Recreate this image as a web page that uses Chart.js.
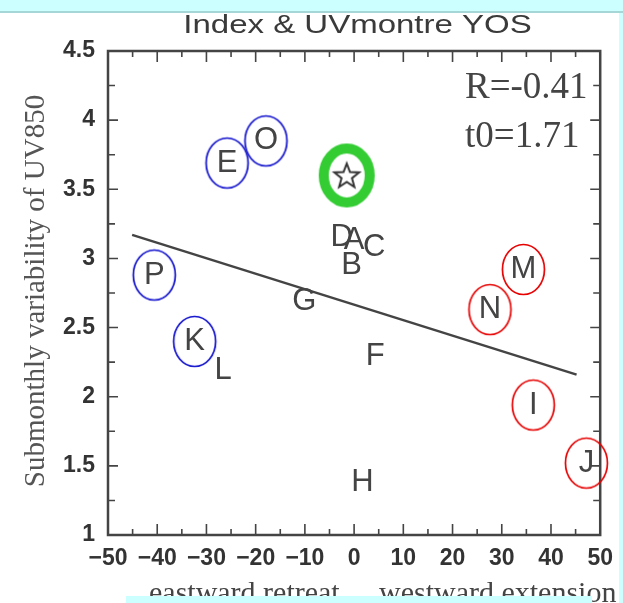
<!DOCTYPE html>
<html>
<head>
<meta charset="utf-8">
<style>
  html, body { margin: 0; padding: 0; background: #fff; }
  canvas { display: block; }
</style>
</head>
<body>
<canvas id="myChart" width="623" height="603"></canvas>
<script src="https://cdn.jsdelivr.net/npm/chart.js"></script>
<script>
// values
const labels  = ['A', 'B', 'C', 'D', 'E', 'F', 'G', 'H', 'I', 'J', 'K', 'L', 'M', 'N', 'O', 'P'];
const xValues = [0, -0.5, 4.1, -2.5, -25.8, 4.3, -10.1, 1.7, 36.4, 47.2, -32.4, -26.6, 34.4, 27.6, -17.9, -40.6];
const yValues = [3.13, 2.95, 3.08, 3.15, 3.69, 2.29, 2.69, 1.38, 1.94, 1.52, 2.40, 2.19, 2.92, 2.63, 3.85, 2.88];
const blueCircled = ['E', 'O', 'P', 'K'];
const redCircled = ['M', 'N', 'I', 'J'];
const starX = [-1.5];
const starY = [3.60];
const fitX = [-45.1, 45.2];
const fitY = [3.17, 2.16];
const statText = ['R=-0.41', 't0=1.71'];

const pts = names => names.map(n => {
  const i = labels.indexOf(n);
  return { x: xValues[i], y: yValues[i] };
});

// point marks as little canvases
function ellipseMark(color, rx, ry, lw) {
  const c = document.createElement('canvas');
  c.width = 2 * rx + 2 * lw + 2;
  c.height = 2 * ry + 2 * lw + 2;
  const g = c.getContext('2d');
  g.strokeStyle = color;
  g.lineWidth = lw;
  g.beginPath();
  g.ellipse(c.width / 2, c.height / 2, rx, ry, 0, 0, Math.PI * 2);
  g.stroke();
  return c;
}

function starMark() {
  const c = ellipseMark('#33cc33', 23, 27, 10);
  const g = c.getContext('2d');
  const cx = c.width / 2, cy = c.height / 2 + 1;
  g.beginPath();
  for (let k = 0; k < 10; k++) {
    const r = k % 2 === 0 ? 13 : 5.5;
    const a = -Math.PI / 2 + k * Math.PI / 5;
    g.lineTo(cx + r * Math.cos(a), cy + r * Math.sin(a));
  }
  g.closePath();
  g.fillStyle = '#fff';
  g.fill();
  g.strokeStyle = '#333';
  g.lineWidth = 2;
  g.stroke();
  return c;
}

const decor = {
  id: 'decor',
  beforeDatasetsDraw(chart) {
    const { ctx, chartArea: a, scales: { x, y } } = chart;
    ctx.save();
    ctx.strokeStyle = '#444';
    ctx.lineWidth = 1.6;
    ctx.beginPath();
    x.ticks.forEach(t => {
      const px = x.getPixelForValue(t.value);
      const len = t.value % 10 === 0 ? 11 : 6;
      ctx.moveTo(px, a.bottom); ctx.lineTo(px, a.bottom - len);
      ctx.moveTo(px, a.top); ctx.lineTo(px, a.top + len);
    });
    y.ticks.forEach(t => {
      const py = y.getPixelForValue(t.value);
      const len = t.value % 0.5 === 0 ? 10 : 7;
      ctx.moveTo(a.left, py); ctx.lineTo(a.left + len, py);
      ctx.moveTo(a.right, py); ctx.lineTo(a.right - len, py);
    });
    ctx.stroke();
    ctx.lineWidth = 2.5;
    ctx.strokeRect(a.left, a.top, a.right - a.left, a.bottom - a.top);
    ctx.restore();
  },
  afterDatasetsDraw(chart) {
    const { ctx } = chart;
    const meta = chart.getDatasetMeta(0);
    ctx.save();
    ctx.fillStyle = '#444';
    ctx.font = '31px "Liberation Sans", Arial, sans-serif';
    ctx.textAlign = 'center';
    ctx.textBaseline = 'middle';
    meta.data.forEach((el, i) => ctx.fillText(labels[i], el.x, el.y));
    ctx.restore();
  },
  afterDraw(chart) {
    const { ctx } = chart;
    ctx.save();
    // title
    ctx.fillStyle = '#3a3a3a';
    ctx.font = '25px "Liberation Sans", Arial, sans-serif';
    ctx.textAlign = 'center';
    ctx.textBaseline = 'alphabetic';
    ctx.save();
    ctx.translate(357.5, 33);
    ctx.scale(1.32, 1);
    ctx.fillText('Index & UVmontre YOS', 0, 0);
    ctx.restore();
    // stats
    ctx.fillStyle = '#444';
    ctx.textAlign = 'left';
    ctx.font = '37px "Liberation Serif", "Times New Roman", serif';
    ctx.fillText(statText[0], 465, 98);
    ctx.fillText(statText[1], 465, 147);
    // y label
    ctx.fillStyle = '#555';
    ctx.font = '29px "Liberation Serif", "Times New Roman", serif';
    ctx.textAlign = 'center';
    ctx.textBaseline = 'middle';
    ctx.save();
    ctx.translate(36, 291);
    ctx.rotate(-Math.PI / 2);
    ctx.fillText('Submonthly variability of UV850', 0, 0);
    ctx.restore();
    // x label
    ctx.fillStyle = '#444';
    ctx.textAlign = 'left';
    ctx.textBaseline = 'alphabetic';
    ctx.font = '30px "Liberation Serif", "Times New Roman", serif';
    ctx.fillText('eastward retreat', 149, 602);
    ctx.fillText('westward extension', 379, 602);
    // cyan frame of the screenshot
    ctx.fillStyle = '#ccffff';
    ctx.fillRect(0, 0, 623, 11);
    ctx.fillRect(619, 0, 4, 603);
    ctx.fillRect(126, 596, 466, 7);
    ctx.fillStyle = '#a6d6d6';
    ctx.fillRect(0, 11, 623, 2);
    ctx.restore();
  }
};

const tickFont = { family: '"Liberation Sans", Arial, sans-serif', size: 23, weight: 'bold' };

const config = {
  type: 'scatter',
  data: {
    datasets: [
      {
        label: 'letters',
        data: labels.map((l, i) => ({ x: xValues[i], y: yValues[i] })),
        pointRadius: 0,
        pointHoverRadius: 0
      },
      {
        label: 'blue',
        data: pts(blueCircled),
        pointStyle: ellipseMark('#1010cc', 21, 25, 1.7),
        clip: false
      },
      {
        label: 'red',
        data: pts(redCircled),
        pointStyle: ellipseMark('#e60000', 21, 25, 1.7),
        clip: false
      },
      {
        label: 'star',
        data: starX.map((v, i) => ({ x: v, y: starY[i] })),
        pointStyle: starMark(),
        clip: false
      },
      {
        type: 'line',
        label: 'fit',
        data: fitX.map((v, i) => ({ x: v, y: fitY[i] })),
        borderColor: '#444',
        borderWidth: 2.5,
        pointRadius: 0,
        fill: false
      }
    ]
  },
  options: {
    responsive: false,
    animation: false,
    devicePixelRatio: 1,
    layout: { padding: { left: 0, right: 16, top: 51, bottom: 0 } },
    plugins: {
      legend: { display: false },
      title: { display: false },
      tooltip: { enabled: false }
    },
    scales: {
      x: {
        type: 'linear',
        min: -50,
        max: 50,
        grid: { display: false, drawTicks: false },
        border: { display: false },
        ticks: {
          stepSize: 5,
          autoSkip: false,
          maxRotation: 0,
          padding: 10,
          color: '#333',
          font: tickFont,
          callback: v => v % 10 === 0 ? (v < 0 ? '\u2212' + Math.abs(v) : String(v)) : ''
        },
        afterFit: s => { s.height = 68; }
      },
      y: {
        min: 1,
        max: 4.5,
        grid: { display: false, drawTicks: false },
        border: { display: false },
        ticks: {
          stepSize: 0.25,
          autoSkip: false,
          padding: 13,
          color: '#333',
          font: tickFont,
          callback: v => v % 0.5 === 0 ? String(v) : ''
        },
        afterFit: s => { s.width = 108; }
      }
    }
  },
  plugins: [decor]
};

const myChart = new Chart(document.getElementById('myChart'), config);
</script>
</body>
</html>
